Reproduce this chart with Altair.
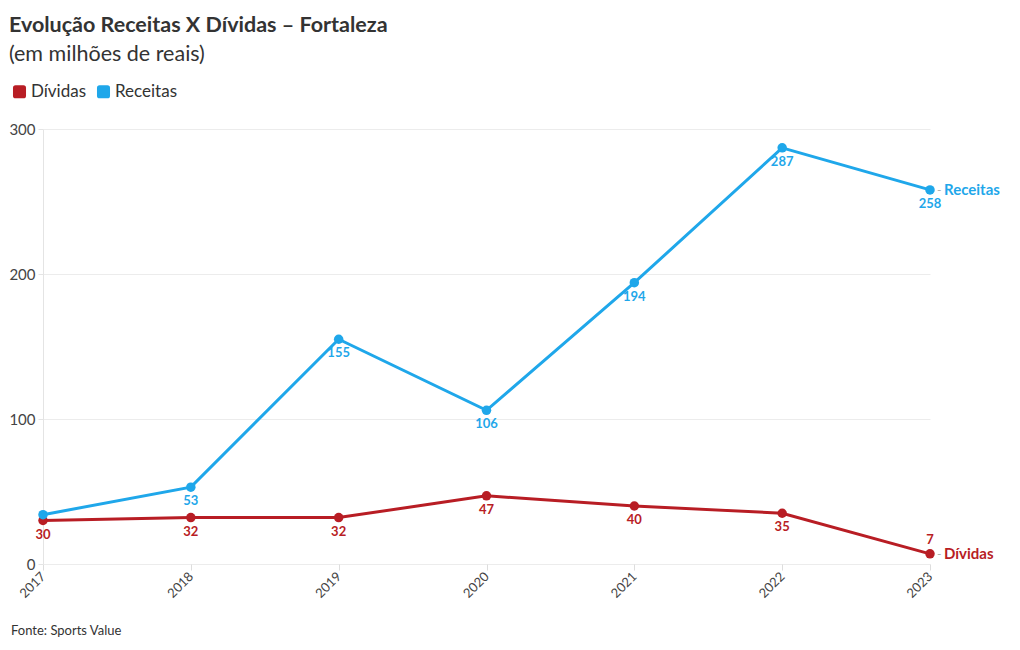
import altair as alt
import pandas as pd

years = ["2017", "2018", "2019", "2020", "2021", "2022", "2023"]
receitas = [34, 53, 155, 106, 194, 287, 258]
dividas = [30, 32, 32, 47, 40, 35, 7]
receitas_labels = ["", "53", "155", "106", "194", "287", "258"]
dividas_labels = ["30", "32", "32", "47", "40", "35", "7"]

RED = "#b81d24"
BLUE = "#1fa7ea"
FONT = "Lato"

rows = []
for i, y in enumerate(years):
    rows.append({"ano": y, "serie": "Dívidas", "valor": dividas[i], "lab": dividas_labels[i],
                 "above": y == "2023"})
    rows.append({"ano": y, "serie": "Receitas", "valor": receitas[i], "lab": receitas_labels[i],
                 "above": False})
df = pd.DataFrame(rows)

W, H = 887, 435

ROUNDED = ("M -0.6 -1 L 0.6 -1 Q 1 -1 1 -0.6 L 1 0.6 Q 1 1 0.6 1 L -0.6 1 "
           "Q -1 1 -1 0.6 L -1 -0.6 Q -1 -1 -0.6 -1 Z")

color = alt.Color(
    "serie:N",
    scale=alt.Scale(domain=["Dívidas", "Receitas"], range=[RED, BLUE]),
    legend=alt.Legend(
        title=None, orient="none", legendX=-32, legendY=-46, direction="horizontal",
        symbolType=ROUNDED, symbolSize=170, symbolStrokeWidth=0, symbolOpacity=1,
        labelFont=FONT, labelFontSize=17, labelColor="#333", columnPadding=8,
        symbolOffset=0, labelOffset=3,
    ),
)

x = alt.X("ano:O", title=None, scale=alt.Scale(padding=0),
          axis=alt.Axis(labelAngle=-45, labelFont=FONT, labelFontSize=13, labelColor="#444",
                        domain=False, tickColor="#ddd", tickSize=6, labelPadding=4,
                        labelAlign="right", labelBaseline="middle"))
y = alt.Y("valor:Q", title=None, scale=alt.Scale(domain=[0, 300], nice=False),
          axis=alt.Axis(values=[0, 100, 200, 300], labelFont=FONT, labelFontSize=15,
                        labelColor="#444", domain=True, domainColor="#e4e4e4",
                        tickColor="#e4e4e4", tickSize=5, gridColor="#ececec",
                        labelPadding=3))

base = alt.Chart(df).encode(x=x, y=y, color=color)

lines = base.mark_line(strokeWidth=3)
points = base.mark_circle(size=90, opacity=1)
labels_below = base.transform_filter("!datum.above").mark_text(
    dy=14, font=FONT, fontSize=13, fontWeight="bold").encode(text="lab:N")
labels_above = base.transform_filter("datum.above").mark_text(
    dy=-14, font=FONT, fontSize=13, fontWeight="bold").encode(text="lab:N")
last = base.transform_filter("datum.ano == '2023'")
end_labels = last.mark_text(
    align="left", dx=14, font=FONT, fontSize=15, fontWeight="bold").encode(text="serie:N")
end_dash = last.mark_text(
    align="left", dx=7, font=FONT, fontSize=12).encode(
    text=alt.value("-"), color=alt.value("#aaa"))

footer = alt.Chart(pd.DataFrame({"t": ["Fonte: Sports Value"]})).mark_text(
    align="left", baseline="middle", font=FONT, fontSize=13, color="#333"
).encode(x=alt.value(-32), y=alt.value(H + 67), text="t:N")

chart = alt.layer(lines, points, labels_below, labels_above, end_dash, end_labels, footer).properties(
    width=W, height=H,
    padding={"left": 0, "top": 7, "right": 5, "bottom": 5},
    title=alt.TitleParams(
        text="Evolução Receitas X Dívidas – Fortaleza",
        subtitle="(em milhões de reais)",
        anchor="start", frame="bounds", font=FONT, fontSize=21.5, fontWeight="bold",
        color="#333", subtitleFont=FONT, subtitleFontSize=21.5, subtitleColor="#333",
        subtitlePadding=7, offset=18,
    ),
).configure_view(stroke=None)

chart.save("out.html", embed_options={"renderer": "svg", "actions": False})
